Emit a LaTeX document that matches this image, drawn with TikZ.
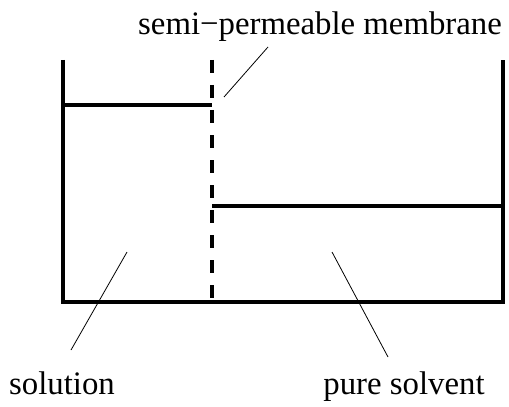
\documentclass[tikz,border=0pt]{standalone}
\usepackage{fontspec}
\setmainfont{Liberation Serif}

\begin{document}
\begin{tikzpicture}[x=0.75pt, y=-0.75pt,
    wall/.style={line width=3pt, black, line join=miter},
    membrane/.style={line width=3pt, black, dash pattern=on 9.75pt off 9pt},
    level/.style={line width=3pt, black},
    leader/.style={line width=0.6pt, black},
    lbl/.style={font=\fontsize{24.6}{28}\selectfont, anchor=base, inner sep=0pt}]
  \useasboundingbox (0,0) rectangle (509,406);
  % ---------------- vessel ----------------
  \coordinate (tl) at (63,60);  \coordinate (bl) at (63,302);
  \coordinate (br) at (503,302); \coordinate (tr) at (503,60);
  \draw[wall] (tl) -- (bl) -- (br) -- (tr);
  % ---------------- membrane ----------------
  \coordinate (mtop) at (212,60); \coordinate (mbot) at (212,300);
  \draw[membrane] (mtop) -- (mbot);
  % ---------------- liquid levels ----------------
  \coordinate (sl) at (63,105);  \coordinate (sr) at (212,105);
  \coordinate (pl) at (212,206); \coordinate (pr) at (503,206);
  \draw[level] (sl) -- (sr);
  \draw[level] (pl) -- (pr);
  % ---------------- labels ----------------
  \node[lbl] (memb) at (320,35) {semi−permeable membrane};
  \node[lbl] (soln) at (62,394) {solution};
  \node[lbl] (solv) at (404,394) {pure solvent};
  \coordinate (membA) at (268,47);  \coordinate (membB) at (224,97);
  \coordinate (solnA) at (71,350);  \coordinate (solnB) at (127,252);
  \coordinate (solvA) at (388,357); \coordinate (solvB) at (332,252);
  \draw[leader] (membA) -- (membB);
  \draw[leader] (solnA) -- (solnB);
  \draw[leader] (solvA) -- (solvB);
\end{tikzpicture}
\end{document}
